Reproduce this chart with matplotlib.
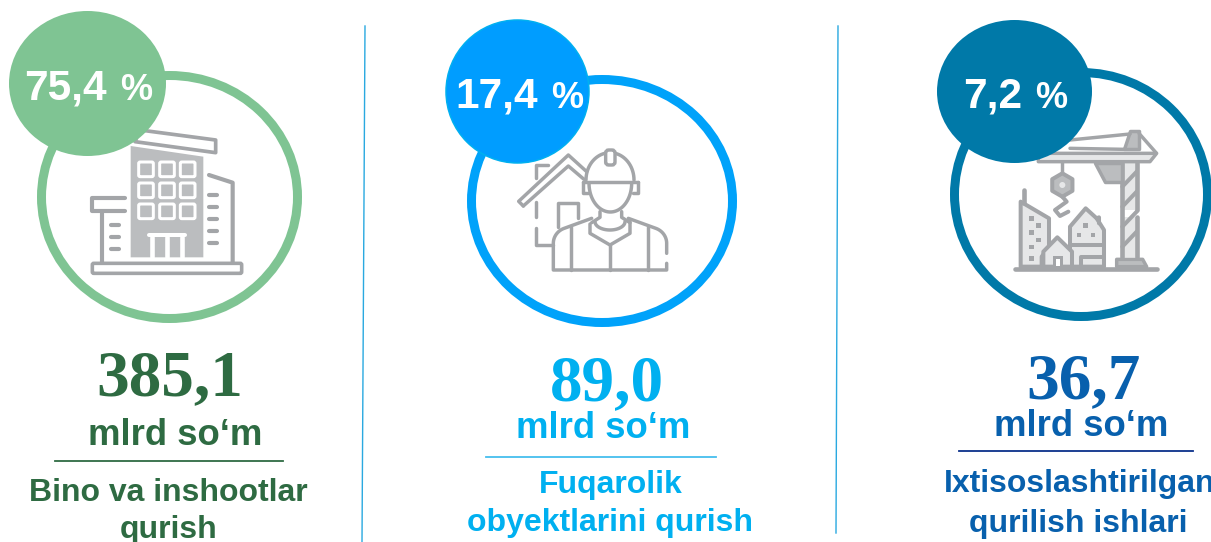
#!/usr/bin/env python3
# Three-panel infographic: share, amount and title per construction type

import numpy as np
import matplotlib
matplotlib.use("Agg")
import matplotlib.pyplot as plt
from matplotlib.patches import Ellipse, Polygon, FancyBboxPatch, Rectangle

shares = ["75,4", "17,4", "7,2"]
amounts = ["385,1", "89,0", "36,7"]
unit = "mlrd so‘m"
titles = [["Bino va inshootlar", "qurish"],
          ["Fuqarolik", "obyektlarini qurish"],
          ["Ixtisoslashtirilgan", "qurilish ishlari"]]

ring_colors = ["#7FC493", "#00A2FA", "#0079A8"]
bubble_colors = ["#7FC493", "#009DFF", "#0079A8"]
amount_colors = ["#2E6B42", "#00B0F0", "#0860AD"]
text_colors = ["#2E6B42", "#00B0F0", "#0860AD"]
rule_colors = ["#2E6B42", "#45BEEE", "#0A2F8A"]
GREY = "#A3A5A8"
FILL = "#BBBDBF"
LIGHT = "#E6E7E8"

fig = plt.figure(figsize=(12.11, 5.42), dpi=100)
ax = fig.add_axes([0, 0, 1, 1])
ax.set_xlim(0, 1211)
ax.set_ylim(542, 0)
ax.axis("off")


def px(w):
    return w * 0.72


def line(ox, pts, lw=3.6, color=GREY, z=3):
    p = np.array(pts, dtype=float)
    ax.plot(ox + p[:, 0] / 3, p[:, 1] / 3, color=color, lw=px(lw * 1.15), zorder=z,
            solid_capstyle="round", solid_joinstyle="round")


def poly(ox, pts, fc=FILL, ec="none", lw=0, z=3):
    p = np.array(pts, dtype=float)
    p[:, 0] = ox + p[:, 0] / 3
    p[:, 1] = p[:, 1] / 3
    ax.add_patch(Polygon(p, closed=True, fc=fc, ec=ec, lw=px(lw * 1.15), zorder=z, joinstyle="round"))


def rrect(ox, x0, y0, x1, y1, fc, ec, lw=2.5, r=1.5, z=3):
    ax.add_patch(FancyBboxPatch((ox + x0 / 3, y0 / 3), (x1 - x0) / 3, (y1 - y0) / 3,
                                boxstyle=f"round,pad=0,rounding_size={r}",
                                fc=fc, ec=ec, lw=px(lw), zorder=z))


def arc(cx, cy, rx, ry, a0, a1):
    t = np.radians(np.linspace(a0, a1, 40))
    return np.column_stack([cx + rx * np.cos(t), cy + ry * np.sin(t)])


def building_icon(ox):
    poly(ox, [(420, 390), (647, 420), (647, 458), (405, 425)], fc="white", ec=GREY, lw=3.2)
    poly(ox, [(392, 438), (610, 470), (610, 772), (392, 772)])
    for yy in [508, 571, 634]:
        for xx in [438, 501, 563]:
            rrect(ox, xx - 22, yy - 22, xx + 22, yy + 22, FILL, "white", lw=3, r=1.5, z=4)
    line(ox, [(447, 706), (556, 706)], lw=3.5, color="white", z=4)
    for xx in [456, 501, 546]:
        line(ox, [(xx, 712), (xx, 772)], lw=4, color="white", z=4)
    line(ox, [(627, 525), (698, 548), (698, 790)])
    for yy in [586, 622, 658, 693, 729]:
        line(ox, [(628, yy), (650, yy)])
    line(ox, [(375, 595), (277, 595), (277, 632), (375, 632)])
    line(ox, [(305, 632), (305, 790)])
    for yy in [675, 710, 746]:
        line(ox, [(332, yy), (358, yy)])
    rrect(ox, 277, 790, 725, 820, "white", GREY, lw=3.6, r=1.5)


def worker_icon(ox):
    line(ox, [(250, 618), (236, 604), (385, 465), (440, 515)], lw=3)
    line(ox, [(250, 618), (385, 498), (432, 538)], lw=3)
    line(ox, [(287, 535), (287, 495), (325, 495)], lw=3)
    line(ox, [(287, 605), (287, 650)], lw=3)
    line(ox, [(287, 685), (287, 735), (340, 735)], lw=3)
    line(ox, [(355, 680), (355, 610), (415, 610), (415, 655)], lw=3)
    line(ox, arc(510, 540, 72, 82, 180, 360), lw=3)
    line(ox, [(430, 545), (595, 545)], lw=3)
    line(ox, [(445, 578), (430, 578), (430, 545)], lw=3)
    line(ox, [(578, 578), (595, 578), (595, 545)], lw=3)
    line(ox, arc(511, 550, 64, 86, 0, 180), lw=3)
    rrect(ox, 497, 450, 525, 495, "white", GREY, lw=3.4, r=3)
    line(ox, [(480, 635), (480, 652), (455, 668)], lw=3)
    line(ox, [(545, 635), (545, 652), (570, 668)], lw=3)
    line(ox, arc(510, 665, 45, 25, 0, 180), lw=3)
    line(ox, [(450, 672), (450, 700), (510, 735), (570, 700), (570, 665)], lw=3)
    line(ox, np.vstack([[(680, 760)], arc(630, 730, 50, 48, 0, -70), [(565, 655)]]), lw=3)
    line(ox, np.vstack([[(455, 655)], arc(390, 730, 50, 48, 250, 180), [(340, 810), (680, 810), (680, 790)]]), lw=3)
    for xx, y0 in [(392, 680), (510, 735), (625, 680)]:
        line(ox, [(xx, y0), (xx, 810)], lw=3)


def crane_icon(ox):
    line(ox, [(285, 806), (710, 806)], lw=4)
    # mast and bracing
    poly(ox, [(610, 490), (648, 490), (648, 630), (610, 630)], fc=LIGHT)
    poly(ox, [(610, 650), (648, 650), (648, 772), (610, 772)], fc=LIGHT)
    line(ox, [(605, 490), (605, 772)], lw=4)
    line(ox, [(652, 490), (652, 630)], lw=4)
    line(ox, [(652, 650), (652, 772)], lw=4)
    for y0 in [560, 620, 680, 740]:
        line(ox, [(607, y0), (650, y0 - 45)], lw=3.5)
    poly(ox, [(590, 800), (590, 778), (668, 778), (680, 800)], fc=FILL, ec=GREY, lw=3)
    # jib
    poly(ox, [(355, 460), (690, 460), (710, 460), (690, 485), (355, 485)], fc=LIGHT, ec=GREY, lw=3)
    poly(ox, [(630, 392), (657, 392), (657, 448), (612, 448)], fc=FILL, ec=GREY, lw=3)
    line(ox, [(657, 400), (708, 458)], lw=3)
    line(ox, [(450, 420), (630, 402)], lw=3)
    line(ox, [(450, 445), (612, 448)], lw=3)
    poly(ox, [(525, 488), (605, 488), (605, 545), (555, 545)], fc=FILL, ec=GREY, lw=3)
    # hook
    line(ox, [(425, 487), (425, 525)], lw=3)
    hx = 427 + 35 * np.cos(np.radians(np.arange(30, 390, 60)))
    hy = 555 + 35 * np.sin(np.radians(np.arange(30, 390, 60)))
    poly(ox, np.column_stack([hx, hy]), fc=FILL, ec=GREY, lw=3.5)
    poly(ox, arc(427, 555, 9, 9, 0, 360), fc=LIGHT)
    line(ox, [(427, 590), (440, 605), (405, 630), (420, 648), (445, 635)], lw=3.5)
    # tall block
    poly(ox, [(302, 800), (302, 605), (387, 655), (387, 740), (365, 770), (365, 800)], fc=LIGHT, ec=GREY, lw=3.5)
    line(ox, [(312, 570), (312, 610)], lw=4)
    for xx, yy in [(335, 655), (355, 677), (335, 698), (355, 720), (335, 741), (335, 776)]:
        poly(ox, [(xx - 7, yy - 7), (xx + 7, yy - 7), (xx + 7, yy + 7), (xx - 7, yy + 7)], fc=GREY)
    # houses
    poly(ox, [(450, 800), (450, 680), (497, 625), (530, 655), (552, 690), (552, 800)], fc=LIGHT, ec=GREY, lw=3.5)
    line(ox, [(452, 735), (550, 735)], lw=3.5)
    line(ox, [(530, 655), (537, 652), (537, 670)], lw=3.5)
    for xx, yy in [(497, 677), (477, 705), (519, 705)]:
        poly(ox, [(xx - 7, yy - 7), (xx + 7, yy - 7), (xx + 7, yy + 7), (xx - 7, yy + 7)], fc=GREY)
    line(ox, [(482, 800), (482, 772), (552, 772)], lw=3.5)
    poly(ox, [(370, 800), (370, 755), (412, 712), (456, 755), (456, 800)], fc=LIGHT, ec=GREY, lw=3.5)
    ax.add_patch(Rectangle((ox + 402 / 3, 772 / 3), 20 / 3, 30 / 3, fc="white", ec=GREY, lw=px(3), zorder=3))


# rings, bubbles, icons
ring_xy = [(169.5, 197), (602, 201), (1081, 194.5)]
ring_wh = [(256, 243), (261, 243), (253, 244)]
bubble_xy = [(87.5, 83.5), (517.5, 91.5), (1014.5, 91.5)]
bubble_wh = [(157, 145), (143, 143), (155, 143)]
icon_ox = [0, 440, 920]
icons = [building_icon, worker_icon, crane_icon]
pct_x = [(24, 120), (455, 551), (963, 1035)]
pct_base = [100, 108, 108]

for i in range(3):
    ax.add_patch(Ellipse(ring_xy[i], *ring_wh[i], fc="white", ec=ring_colors[i], lw=px(9), zorder=1))
    icons[i](icon_ox[i])
    ax.add_patch(Ellipse(bubble_xy[i], *bubble_wh[i], fc=bubble_colors[i],
                         ec="#00B0F0" if i == 1 else "none", lw=px(1.5), zorder=5))
    ax.text(pct_x[i][0], pct_base[i], shares[i], color="white", fontsize=30.5, fontweight="bold",
            family="Liberation Sans", ha="left", va="baseline", zorder=6)
    ax.text(pct_x[i][1], pct_base[i], "%", color="white", fontsize=26, fontweight="bold",
            family="Liberation Sans", ha="left", va="baseline", zorder=6)

# separators
for xs, ys in [((365, 362), (26, 542)), ((838, 836), (26, 533))]:
    ax.plot(xs, ys, color="#2AA9E0", lw=px(1.4), zorder=1)

# amounts, unit, rule, title
amount_xy = [(169.5, 395), (606.5, 400), (1083.5, 398)]
unit_xy = [(175.5, 445), (603.5, 438), (1081, 436)]
rule_xy = [(55, 283, 460.5), (486, 716, 457), (959, 1193, 451)]
title_x = [(168.5, 168.5), (610.5, 610), (1080, 1078)]
title_y = [(501, 538), (493, 531), (492, 532)]

for i in range(3):
    ax.text(*amount_xy[i], amounts[i], color=amount_colors[i], fontsize=47, fontweight="bold",
            family="Liberation Serif", ha="center", va="baseline")
    ax.text(*unit_xy[i], unit, color=text_colors[i], fontsize=26.3, fontweight="bold",
            family="Liberation Sans", ha="center", va="baseline")
    x0, x1, yy = rule_xy[i]
    ax.plot([x0, x1], [yy, yy], color=rule_colors[i], lw=px(1.8))
    for txt, xx, yy in zip(titles[i], title_x[i], title_y[i]):
        ax.text(xx, yy, txt, color=text_colors[i], fontsize=23, fontweight="bold",
                family="Liberation Sans", ha="center", va="baseline")

fig.savefig("out.png", dpi=100)
